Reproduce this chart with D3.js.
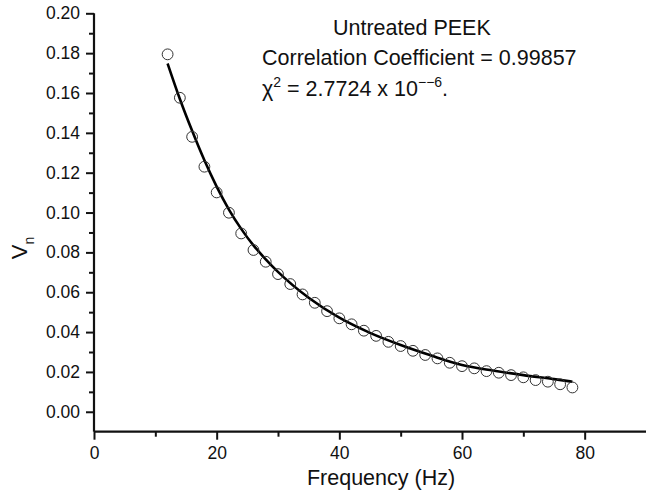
<!DOCTYPE html>
<html>
<head>
<meta charset="utf-8">
<script src="https://cdn.jsdelivr.net/npm/d3@7/dist/d3.min.js"></script>
<style>
  body { margin: 0; background: #fff; }
  text { font-family: "Liberation Sans", Arial, Helvetica, sans-serif; fill: #111; }
</style>
</head>
<body>
<div id="chart"></div>
<script>
// measured points (circles)
const freq = [12, 14, 16, 18, 20, 22, 24, 26, 28, 30, 32, 34, 36, 38, 40, 42, 44,
              46, 48, 50, 52, 54, 56, 58, 60, 62, 64, 66, 68, 70, 72, 74, 76, 78];
const vn = [0.1794, 0.1576, 0.1380, 0.1230, 0.1101, 0.0999, 0.0895, 0.0812, 0.0753,
            0.0691, 0.0641, 0.0589, 0.0547, 0.0505, 0.0469, 0.0439, 0.0407, 0.0381,
            0.0351, 0.0330, 0.0306, 0.0285, 0.0268, 0.0246, 0.0229, 0.0218, 0.0204,
            0.0196, 0.0184, 0.0173, 0.0159, 0.0151, 0.0138, 0.0122];

// fitted curve
const fitFreq = [12, 14, 16, 18, 20, 22, 24, 26, 28, 30, 35, 40, 45, 50, 55, 60, 65, 70, 75, 78];
const fitVn = [0.1748, 0.1570, 0.1410, 0.1262, 0.1130, 0.1015, 0.0918, 0.0835, 0.0765,
               0.0702, 0.0572, 0.0472, 0.0396, 0.0335, 0.0282, 0.0235, 0.0207, 0.0184,
               0.0164, 0.0151];

const xTicks = [0, 20, 40, 60, 80];
const xMinor = [10, 30, 50, 70];
const yTicks = [0, 0.02, 0.04, 0.06, 0.08, 0.10, 0.12, 0.14, 0.16, 0.18, 0.20];
const yMinor = [0.01, 0.03, 0.05, 0.07, 0.09, 0.11, 0.13, 0.15, 0.17, 0.19];

const width = 647, height = 493;
const plotLeft = 94, plotRight = 646, plotTop = 13.3, plotBottom = 431.7;

const x = d3.scaleLinear().domain([0, 90]).range([plotLeft, plotRight]);
const y = d3.scaleLinear().domain([-0.01, 0.20]).range([plotBottom, plotTop]);

const svg = d3.select("#chart").append("svg")
    .attr("width", width)
    .attr("height", height);

// axes
const xAxis = svg.append("g")
    .attr("transform", `translate(0,${plotBottom})`)
    .call(d3.axisBottom(x).tickValues(xTicks).tickFormat(d3.format("d")).tickSize(8).tickPadding(7));
const xMin = xAxis.append("g")
    .call(d3.axisBottom(x).tickValues(xMinor).tickFormat("").tickSize(5));

const yAxis = svg.append("g")
    .attr("transform", `translate(${plotLeft},0)`)
    .call(d3.axisLeft(y).tickValues(yTicks).tickFormat(d3.format(".2f")).tickSize(8).tickPadding(6));
const yMin = yAxis.append("g")
    .call(d3.axisLeft(y).tickValues(yMinor).tickFormat("").tickSize(5));

xMin.select(".domain").remove();
yMin.select(".domain").remove();

svg.selectAll(".domain").attr("stroke", "#111").attr("stroke-width", 2.2);
svg.selectAll(".tick line").attr("stroke", "#111").attr("stroke-width", 2);
svg.selectAll(".tick text").style("font-size", "17.5px").attr("fill", "#111");

xAxis.select(".domain").attr("d", `M${plotLeft},0H${plotRight}`);
yAxis.select(".domain").attr("d", `M0,${y(0.20)}V${plotBottom}`);

// fit line
const line = d3.line()
    .x((d, i) => x(fitFreq[i]))
    .y(d => y(d))
    .curve(d3.curveMonotoneX);

svg.append("path")
    .datum(fitVn)
    .attr("d", line)
    .attr("fill", "none")
    .attr("stroke", "#000")
    .attr("stroke-width", 2.6);

// data circles
svg.selectAll(".pt")
    .data(vn)
    .enter()
    .append("circle")
    .attr("class", "pt")
    .attr("cx", (d, i) => x(freq[i]))
    .attr("cy", d => y(d))
    .attr("r", 5.4)
    .attr("fill", "none")
    .attr("stroke", "#333")
    .attr("stroke-width", 1);

// axis titles
svg.append("text")
    .attr("x", 381)
    .attr("y", 485)
    .attr("text-anchor", "middle")
    .style("font-size", "21.5px")
    .text("Frequency (Hz)");

const yl = svg.append("text")
    .attr("transform", `translate(27,248) rotate(-90)`)
    .attr("text-anchor", "middle")
    .style("font-size", "22px");
yl.append("tspan").text("V");
yl.append("tspan").attr("dy", 7).style("font-size", "14px").text("n");

// annotation
svg.append("text")
    .attr("x", 333).attr("y", 35)
    .style("font-size", "21.5px")
    .text("Untreated PEEK");

svg.append("text")
    .attr("x", 262).attr("y", 65)
    .style("font-size", "21.5px")
    .text("Correlation Coefficient = 0.99857");

const chi = svg.append("text")
    .attr("x", 262).attr("y", 96)
    .style("font-size", "21.5px");
chi.append("tspan").text("χ");
chi.append("tspan").attr("dy", -9).style("font-size", "14px").text("2");
chi.append("tspan").attr("dy", 9).text(" = 2.7724 x 10");
chi.append("tspan").attr("dy", -9).style("font-size", "14px").text("−−6");
chi.append("tspan").attr("dy", 9).text(".");
</script>
</body>
</html>
